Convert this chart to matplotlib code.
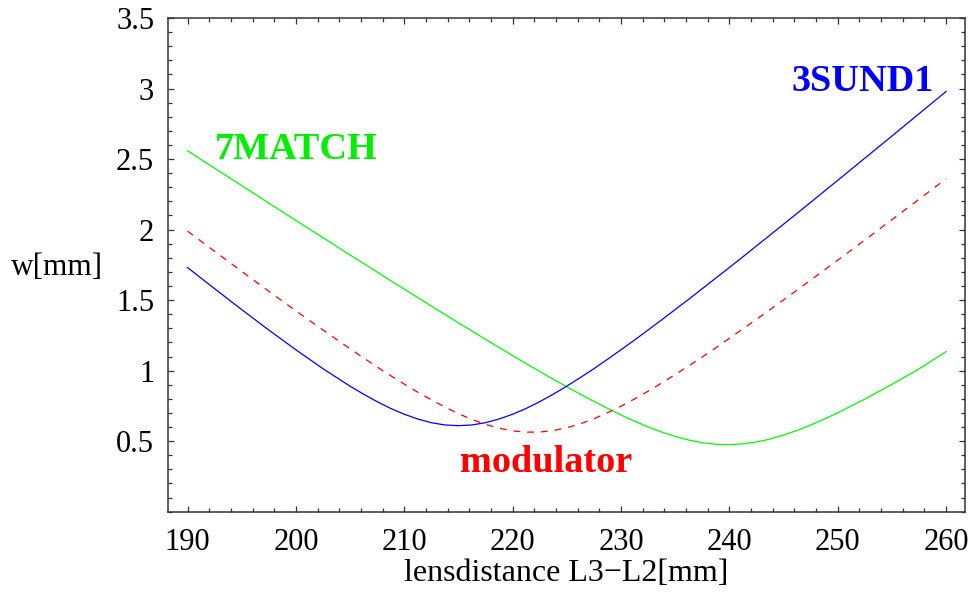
import numpy as np
import matplotlib
matplotlib.use("Agg")
import matplotlib.pyplot as plt
from matplotlib.ticker import MultipleLocator

# lens distance L3-L2 [mm]; denser sampling around the minima
dist = [190, 192.5, 195, 197.5, 200, 202.5, 205,
        206.25, 207.5, 208.75, 210, 211.25, 212.5, 213.75, 215, 216.25, 217.5,
        218.75, 220, 221.25, 222.5, 223.75, 225, 226.25, 227.5, 228.75, 230,
        231.25, 232.5, 233.75, 235, 236.25, 237.5, 238.75, 240, 241.25, 242.5,
        243.75, 245, 246.25, 247.5, 248.75,
        250, 252.5, 255, 257.5, 260]

# beam width w [mm]
w_3sund1 = [1.731, 1.581, 1.433, 1.288, 1.148, 1.014, 0.890,
            0.833, 0.780, 0.732, 0.691, 0.657, 0.631, 0.615, 0.610, 0.615, 0.631,
            0.657, 0.691, 0.732, 0.780, 0.833, 0.890, 0.951, 1.014, 1.080, 1.148,
            1.217, 1.288, 1.360, 1.433, 1.506, 1.581, 1.656, 1.731, 1.807, 1.884,
            1.961, 2.038, 2.115, 2.193, 2.271,
            2.349, 2.506, 2.663, 2.821, 2.979]
w_modulator = [1.989, 1.846, 1.704, 1.563, 1.424, 1.288, 1.155,
               1.090, 1.026, 0.964, 0.905, 0.847, 0.793, 0.742, 0.695, 0.654, 0.619,
               0.592, 0.573, 0.564, 0.565, 0.575, 0.595, 0.623, 0.659, 0.701, 0.748,
               0.799, 0.854, 0.912, 0.972, 1.034, 1.097, 1.162, 1.229, 1.296, 1.364,
               1.432, 1.502, 1.571, 1.642, 1.712,
               1.783, 1.926, 2.070, 2.215, 2.360]
w_7match = [2.559, 2.435, 2.312, 2.188, 2.065, 1.943, 1.820,
            1.760, 1.699, 1.638, 1.578, 1.518, 1.458, 1.399, 1.339, 1.281, 1.222,
            1.164, 1.107, 1.050, 0.995, 0.939, 0.886, 0.833, 0.782, 0.733, 0.686,
            0.642, 0.601, 0.565, 0.534, 0.508, 0.489, 0.478, 0.475, 0.481, 0.494,
            0.515, 0.543, 0.576, 0.614, 0.656,
            0.701, 0.798, 0.903, 1.012, 1.135]

plt.rcParams['font.family'] = ['Liberation Serif', 'DejaVu Serif']

fig = plt.figure(figsize=(9.74, 5.98), dpi=100)
ax = fig.add_axes([0.1725, 0.1443, 0.8183, 0.8256])

ax.plot(dist, w_7match, color='#00ff00', lw=0.9)
ax.plot(dist, w_modulator, color='#ff0000', lw=0.9, dashes=(5.5, 5.5))
ax.plot(dist, w_3sund1, color='#0000ff', lw=0.9)

ax.text(200.0, 2.57, '7MATCH', color='#00ee00', fontsize=27.5, fontweight='bold',
        ha='center', va='center')
ax.text(252.3, 3.05, '3SUND1', color='#0000ff', fontsize=27.5, fontweight='bold',
        ha='center', va='center')
ax.text(223.1, 0.35, 'modulator', color='#ff0000', fontsize=27.5, fontweight='bold',
        ha='center', va='center')

ax.set_xlim(188.2, 261.75)
ax.set_ylim(0, 3.5)
ax.xaxis.set_major_locator(MultipleLocator(10))
ax.xaxis.set_minor_locator(MultipleLocator(2))
ax.yaxis.set_minor_locator(MultipleLocator(0.1))
ax.set_yticks([0.5, 1, 1.5, 2, 2.5, 3, 3.5])
ax.set_yticklabels(['0.5', '1', '1.5', '2', '2.5', '3', '3.5'])

for s in ax.spines.values():
    s.set_color('#333333')
    s.set_linewidth(1.1)
ax.tick_params(which='both', direction='in', top=True, right=True, color='#333333', width=0.9)
ax.tick_params(which='major', length=4.5, labelsize=22)
ax.tick_params(which='minor', length=3)
ax.tick_params(axis='x', which='major', pad=12)
ax.tick_params(axis='y', which='major', pad=10)

ax.set_xlabel('lensdistance L3\u2212L2[mm]', fontsize=23, va='center')
ax.xaxis.set_label_coords(0.5, -0.126)
ax.set_ylabel('w[mm]', fontsize=22.5, rotation=0, ha='center', va='center')
ax.yaxis.set_label_coords(-0.139, 0.494)

fig.savefig('out.png', dpi=100)
